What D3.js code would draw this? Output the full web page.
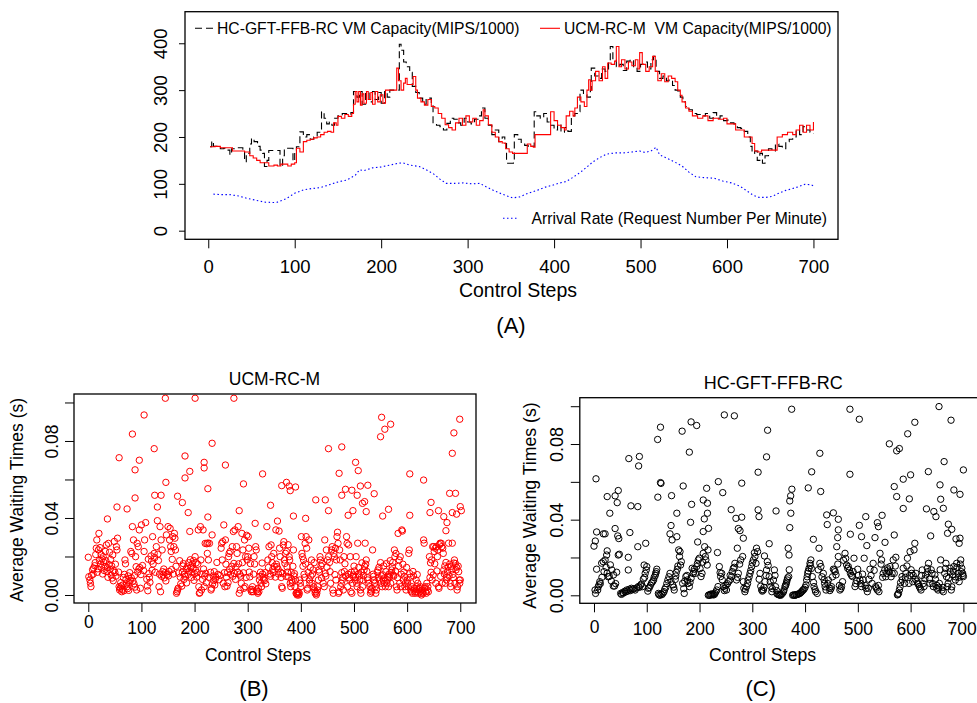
<!DOCTYPE html>
<html><head><meta charset="utf-8">
<script src="https://cdn.jsdelivr.net/npm/d3@7"></script>
<style>
body{margin:0;background:#fff}
text{font-family:"Liberation Sans",Arial,Helvetica,sans-serif;fill:#000}
</style></head>
<body><svg id="chart" width="977" height="703"></svg>
<script>
// ---------- data ----------
const stepTicks = [0,100,200,300,400,500,600,700];
const capTicks = [0,100,200,300,400];
const waitTicks = [0,0.02,0.04,0.06,0.08,0.10];
const waitLabels = [0,0.04,0.08];

const legendHC = "HC-GFT-FFB-RC VM Capacity(MIPS/1000)";
const legendUCM = "UCM-RC-M  VM Capacity(MIPS/1000)";
const legendArrival = "Arrival Rate (Request Number Per Minute)";

// HC-GFT-FFB-RC VM capacity (MIPS/1000): [control step, value]
const hcCapacity = [[2,179],[4,191],[6,180],[10,178],[14,175],[18,176],[22,172],[25,162],[27,175],[32,177],[36,177],[40,170],[42,147],[44,165],[48,185],[50,197],[53,190],[57,180],[60,172],[63,165],[65,137],[68,150],[70,171],[76,171],[80,171],[83,137],[86,160],[88,176],[95,176],[98,148],[100,170],[102,179],[106,211],[110,200],[114,205],[118,195],[122,200],[126,210],[129,215],[131,254],[134,240],[137,228],[140,232],[143,225],[146,240],[150,245],[155,250],[160,248],[165,252],[168,297],[172,285],[175,297],[178,270],[182,295],[186,275],[190,297],[193,280],[197,295],[200,272],[204,297],[207,285],[210,300],[215,300],[219,300],[221,398],[223,385],[226,360],[229,350],[233,338],[236,308],[240,295],[244,283],[248,270],[252,283],[255,283],[258,270],[260,229],[264,225],[268,222],[272,215],[276,229],[280,240],[284,238],[288,230],[292,225],[296,240],[300,232],[304,228],[308,238],[312,245],[316,262],[320,240],[324,225],[328,205],[332,215],[336,190],[340,200],[343,186],[345,144],[350,144],[353,150],[354,205],[358,195],[362,185],[366,182],[370,178],[374,180],[377,254],[380,245],[384,240],[388,250],[392,232],[396,225],[400,215],[404,228],[408,210],[412,220],[416,212],[420,245],[424,250],[428,254],[430,300],[434,290],[438,285],[442,300],[443,347],[447,330],[451,325],[455,345],[459,340],[463,362],[465,393],[468,365],[472,350],[476,355],[480,342],[484,362],[488,365],[492,350],[496,340],[500,355],[504,360],[508,345],[512,365],[515,372],[518,340],[522,325],[526,330],[530,320],[533,322],[537,310],[540,300],[543,298],[546,285],[549,275],[552,265],[556,258],[560,250],[565,248],[570,245],[575,250],[580,240],[584,252],[588,240],[592,245],[596,235],[600,236],[604,230],[608,228],[612,220],[616,218],[620,212],[624,200],[627,180],[629,165],[632,170],[635,150],[638,165],[641,144],[644,160],[648,175],[652,170],[656,185],[660,180],[664,175],[668,190],[672,195],[676,200],[680,215],[684,205],[688,222],[692,215],[696,210],[700,208]];

// UCM-RC-M VM capacity (MIPS/1000)
const ucmCapacity = [[2,179],[8,180],[14,177],[20,177],[25,177],[28,170],[35,170],[42,168],[48,160],[52,155],[56,150],[60,145],[66,145],[70,138],[76,140],[80,138],[84,142],[88,142],[92,138],[96,142],[100,145],[102,176],[106,168],[110,190],[114,193],[118,195],[122,198],[126,200],[130,205],[134,210],[138,212],[142,210],[145,230],[148,225],[150,244],[154,240],[158,248],[162,244],[166,250],[168,270],[170,297],[172,275],[174,297],[176,268],[178,292],[180,272],[183,297],[185,280],[188,295],[190,270],[193,297],[196,275],[199,290],[202,272],[205,300],[210,300],[216,300],[218,347],[220,320],[223,300],[226,315],[228,325],[230,312],[234,312],[237,329],[240,300],[242,283],[246,275],[250,268],[254,280],[258,265],[262,262],[266,250],[270,240],[274,226],[278,220],[282,215],[286,230],[290,240],[294,225],[298,245],[302,232],[306,240],[310,225],[314,235],[318,258],[320,245],[324,226],[328,210],[332,200],[336,190],[340,187],[344,175],[348,168],[352,165],[360,165],[366,165],[369,185],[373,180],[376,178],[378,205],[384,205],[390,205],[394,205],[396,254],[400,235],[404,225],[408,220],[412,215],[414,245],[418,255],[422,245],[424,262],[427,285],[431,275],[435,265],[438,300],[440,322],[442,300],[444,320],[448,340],[452,320],[456,350],[459,325],[462,358],[466,355],[470,362],[472,393],[475,350],[478,365],[482,345],[486,360],[490,352],[494,365],[497,345],[499,380],[502,355],[506,340],[510,350],[514,372],[517,340],[520,320],[524,335],[528,318],[532,330],[536,325],[540,318],[543,300],[546,289],[548,275],[552,262],[556,255],[560,245],[566,240],[572,245],[578,235],[584,240],[590,238],[596,240],[600,228],[606,228],[610,215],[616,215],[620,200],[626,200],[629,186],[632,170],[636,168],[640,172],[646,172],[652,172],[656,172],[658,200],[664,205],[670,210],[676,205],[680,215],[684,225],[688,210],[692,225],[696,215],[700,232]];

// Arrival rate (requests per minute)
const arrivalRate = [[6,78],[15,77],[25,77],[35,74],[45,69],[55,65],[65,61],[75,60],[80,61],[90,68],[100,80],[110,87],[120,90],[130,92],[140,98],[150,104],[160,108],[170,118],[175,130],[180,128],[190,134],[200,136],[210,140],[220,144],[225,145],[233,140],[244,137],[252,130],[260,122],[268,110],[275,101],[285,101],[295,102],[305,100],[314,101],[320,95],[330,86],[340,78],[352,70],[360,72],[370,80],[380,86],[390,93],[398,97],[405,101],[414,105],[422,114],[430,124],[438,136],[445,147],[452,155],[460,163],[470,166],[480,166],[490,168],[499,170],[505,167],[512,170],[518,178],[522,162],[530,155],[540,146],[548,138],[556,125],[564,115],[575,113],[585,112],[595,106],[605,102],[615,95],[623,85],[630,76],[637,71],[645,71],[652,73],[660,80],[668,86],[676,90],[683,94],[690,99],[697,98],[701,95]];

// Average waiting times (s), UCM-RC-M: [control step, seconds]
const ucmWait = [[145,0.1022],[201,0.1022],[274,0.1022],[105,0.0935],[83,0.0836],[124,0.076],[233,0.0788],[58,0.0713],[182,0.0722],[96,0.07],[218,0.0689],[218,0.066],[258,0.0675],[88,0.065],[191,0.0642],[182,0.0608],[146,0.0585],[225,0.0552],[292,0.0577],[328,0.0629],[125,0.0518],[137,0.0518],[168,0.0513],[88,0.0504],[177,0.048],[54,0.0457],[73,0.0447],[130,0.0457],[188,0.0428],[225,0.0405],[36,0.0395],[284,0.0438],[343,0.0466],[364,0.0568],[373,0.0585],[378,0.0566],[380,0.0542],[390,0.0561],[386,0.041],[428,0.0494],[409,0.0398],[452,0.076],[446,0.0494],[452,0.0438],[472,0.0632],[477,0.0769],[477,0.0518],[484,0.0549],[489,0.0414],[496,0.0544],[498,0.0438],[503,0.0689],[508,0.0646],[506,0.0518],[512,0.0566],[516,0.0476],[520,0.0485],[523,0.0433],[526,0.057],[538,0.0526],[550,0.0822],[552,0.0923],[558,0.0861],[569,0.0887],[554,0.041],[565,0.0445],[605,0.0629],[605,0.0414],[631,0.0597],[645,0.0481],[643,0.0428],[659,0.0438],[669,0.0407],[675,0.0376],[673,0.0334],[680,0.0528],[685,0.0736],[688,0.0842],[699,0.0913],[691,0.0528],[685,0.0428],[693,0.042],[700,0.0459],[702,0.0438],
[0,0.0196],[1,0.0095],[3,0.0078],[4,0.0061],[5,0.0043],[6,0.0102],[8,0.0131],[9,0.0108],[10,0.014],[12,0.0152],[13,0.0168],[14,0.021],[15,0.0243],[16,0.0286],[17,0.0118],[18,0.0136],[19,0.0234],[20,0.032],[21,0.018],[22,0.0246],[23,0.0161],[24,0.021],[25,0.0144],[26,0.0187],[27,0.0109],[28,0.0199],[29,0.0171],[30,0.0127],[31,0.0149],[32,0.0226],[33,0.0178],[34,0.026],[35,0.0121],[36,0.0142],[37,0.0092],[38,0.0268],[39,0.0158],[40,0.0222],[41,0.0133],[42,0.0185],[43,0.0104],[44,0.0151],[45,0.0088],[46,0.0208],[47,0.0074],[48,0.0126],[49,0.0278],[50,0.0117],[51,0.016],[52,0.0098],[53,0.0251],[54,0.0234],[55,0.0295],[57,0.0119],[58,0.0043],[59,0.0026],[60,0.0035],[61,0.0064],[62,0.0047],[63,0.0017],[64,0.0029],[65,0.0052],[66,0.0091],[67,0.0022],[68,0.0107],[69,0.0182],[70,0.0162],[71,0.0081],[72,0.0058],[73,0.0043],[74,0.0033],[75,0.0099],[76,0.0024],[77,0.0066],[78,0.0116],[79,0.0075],[80,0.0226],[81,0.0089],[82,0.0216],[83,0.0355],[84,0.0072],[85,0.0286],[86,0.0058],[87,0.0101],[88,0.0041],[89,0.0199],[90,0.0147],[91,0.0026],[92,0.0268],[93,0.0119],[94,0.0251],[95,0.0134],[96,0.0338],[97,0.0142],[98,0.0035],[99,0.0106],[100,0.0364],[102,0.0153],[104,0.0127],[105,0.0226],[106,0.0286],[108,0.0376],[110,0.0082],[111,0.0047],[112,0.0022],[113,0.0186],[114,0.0111],[115,0.0092],[116,0.0066],[118,0.0203],[119,0.0176],[120,0.0128],[121,0.0303],[122,0.0161],[124,0.0216],[125,0.0194],[126,0.0118],[128,0.0251],[130,0.0386],[131,0.0212],[132,0.0179],[133,0.0043],[134,0.0108],[135,0.0355],[136,0.0017],[137,0.0286],[138,0.0097],[139,0.0234],[140,0.0121],[141,0.0104],[142,0.0135],[143,0.0089],[145,0.0117],[146,0.0073],[147,0.0312],[148,0.0106],[150,0.0355],[151,0.0099],[152,0.0122],[153,0.0286],[154,0.0346],[155,0.0251],[156,0.0226],[157,0.0132],[158,0.0185],[159,0.0303],[160,0.0109],[161,0.0251],[162,0.032],[163,0.0295],[164,0.0234],[165,0.0149],[166,0.0009],[167,0.0017],[168,0.0026],[169,0.0035],[170,0.0114],[172,0.0178],[173,0.0093],[174,0.0058],[176,0.0046],[177,0.0119],[178,0.0151],[179,0.0163],[180,0.0081],[181,0.0108],[182,0.0097],[184,0.0134],[185,0.0063],[186,0.0146],[188,0.0107],[189,0.0168],[190,0.0124],[191,0.033],[192,0.0183],[193,0.0143],[194,0.0091],[195,0.0118],[196,0.0162],[197,0.0137],[198,0.0179],[199,0.0076],[200,0.0111],[201,0.0199],[202,0.0128],[203,0.0167],[204,0.0093],[205,0.0116],[206,0.016],[207,0.0338],[208,0.0043],[209,0.0009],[210,0.0012],[211,0.0355],[212,0.0182],[213,0.0026],[214,0.0109],[215,0.0081],[216,0.0338],[217,0.0135],[218,0.0043],[219,0.0098],[220,0.0268],[221,0.0112],[222,0.0064],[223,0.0266],[224,0.0216],[225,0.027],[226,0.0182],[227,0.0092],[228,0.0268],[230,0.0118],[231,0.0026],[232,0.0035],[233,0.0312],[234,0.0058],[235,0.0099],[236,0.0075],[237,0.0121],[238,0.0052],[239,0.0082],[240,0.0093],[242,0.0169],[244,0.0107],[246,0.0079],[248,0.0101],[250,0.0243],[251,0.0268],[252,0.0182],[253,0.0277],[254,0.0061],[255,0.0364],[256,0.0116],[257,0.0043],[258,0.0286],[259,0.016],[260,0.0093],[261,0.0046],[262,0.0118],[263,0.0064],[264,0.0199],[265,0.0216],[266,0.0133],[267,0.0226],[268,0.0108],[270,0.0149],[271,0.0251],[272,0.0097],[273,0.033],[274,0.0164],[275,0.0112],[276,0.0338],[277,0.0081],[278,0.0146],[279,0.0251],[280,0.0216],[281,0.0119],[282,0.0355],[283,0.0162],[284,0.0009],[285,0.0109],[286,0.0026],[287,0.0098],[288,0.0061],[289,0.032],[290,0.0168],[291,0.0234],[292,0.0115],[293,0.0035],[294,0.0286],[295,0.0043],[296,0.0199],[297,0.0091],[298,0.031],[299,0.0182],[300,0.0199],[301,0.0303],[302,0.0243],[303,0.0119],[304,0.0094],[305,0.0163],[306,0.0026],[307,0.0017],[308,0.0029],[309,0.0043],[310,0.0017],[311,0.0108],[312,0.0199],[313,0.0161],[314,0.0372],[315,0.0251],[316,0.0234],[317,0.0026],[318,0.0017],[319,0.0009],[320,0.0035],[321,0.0017],[322,0.0078],[323,0.0097],[324,0.0118],[325,0.0061],[326,0.0043],[327,0.0166],[328,0.0109],[329,0.0092],[330,0.0081],[332,0.0075],[333,0.0116],[334,0.0058],[336,0.0355],[338,0.0182],[339,0.0143],[340,0.0251],[342,0.0109],[343,0.0097],[344,0.026],[345,0.0199],[346,0.0168],[347,0.0132],[348,0.0116],[349,0.0216],[350,0.0149],[352,0.0093],[353,0.0338],[354,0.016],[355,0.0147],[356,0.0384],[357,0.0135],[358,0.0109],[359,0.0332],[360,0.0243],[361,0.0199],[362,0.0118],[363,0.0091],[364,0.0043],[365,0.0035],[366,0.0112],[367,0.026],[368,0.0277],[369,0.0182],[370,0.0164],[371,0.0216],[372,0.0097],[373,0.0226],[374,0.0146],[375,0.0119],[376,0.0261],[377,0.0093],[378,0.0199],[379,0.0182],[380,0.0061],[381,0.0043],[382,0.0116],[383,0.0078],[384,0.0064],[385,0.0149],[386,0.0234],[387,0.0099],[388,0.0111],[389,0.0043],[390,0.0078],[391,0.0009],[392,0.0009],[393,0.0],[394,0.0009],[395,0.0017],[396,0.0],[397,0.0009],[398,0.0078],[399,0.0061],[400,0.0043],[401,0.0303],[402,0.0216],[403,0.0199],[404,0.0149],[405,0.0182],[406,0.0108],[407,0.0091],[408,0.0268],[409,0.0161],[410,0.0303],[411,0.0243],[412,0.0026],[413,0.0035],[414,0.0117],[415,0.0286],[416,0.0078],[417,0.0061],[418,0.0143],[419,0.0099],[420,0.0182],[421,0.0061],[422,0.0109],[423,0.013],[424,0.0043],[425,0.0168],[426,0.0026],[427,0.0009],[428,0.0017],[429,0.0],[430,0.0009],[431,0.0026],[432,0.0043],[433,0.0078],[434,0.013],[435,0.0119],[436,0.0199],[437,0.0182],[438,0.0151],[439,0.0088],[440,0.0163],[442,0.0061],[444,0.0043],[445,0.0286],[446,0.0111],[447,0.0098],[448,0.0234],[449,0.0145],[450,0.0182],[452,0.0199],[454,0.0169],[455,0.0121],[456,0.0061],[458,0.0234],[459,0.0251],[460,0.0026],[461,0.0009],[462,0.0216],[463,0.0199],[464,0.0106],[465,0.0243],[466,0.0078],[467,0.0182],[468,0.0303],[469,0.0326],[470,0.0268],[471,0.0009],[472,0.0017],[473,0.0234],[474,0.0182],[475,0.0043],[476,0.0061],[477,0.0116],[478,0.0078],[479,0.0092],[480,0.0026],[481,0.0199],[482,0.0122],[483,0.0162],[484,0.0099],[486,0.0303],[487,0.0268],[488,0.0043],[489,0.0108],[490,0.026],[491,0.0089],[492,0.0078],[493,0.0199],[494,0.0017],[495,0.0118],[496,0.0009],[497,0.0061],[498,0.0097],[499,0.0104],[500,0.015],[501,0.0125],[502,0.0078],[503,0.0093],[504,0.0199],[505,0.0061],[506,0.0043],[507,0.0269],[508,0.0109],[509,0.0143],[510,0.0099],[511,0.0078],[512,0.0026],[513,0.0009],[514,0.0119],[515,0.0167],[516,0.0043],[517,0.0078],[518,0.0102],[519,0.013],[520,0.0148],[521,0.0269],[522,0.016],[523,0.0182],[524,0.0123],[525,0.009],[526,0.0078],[528,0.0061],[530,0.0043],[531,0.0009],[532,0.0026],[533,0.0017],[534,0.0035],[535,0.0234],[536,0.0108],[537,0.0097],[538,0.0078],[539,0.0061],[540,0.0043],[541,0.0009],[542,0.0026],[544,0.0118],[545,0.013],[546,0.0092],[547,0.0144],[548,0.0078],[550,0.0168],[551,0.0061],[552,0.0099],[553,0.0043],[554,0.0105],[555,0.0078],[556,0.0151],[557,0.0061],[558,0.0089],[559,0.0043],[560,0.0121],[561,0.0163],[562,0.0061],[563,0.0078],[564,0.0097],[565,0.0043],[566,0.0109],[567,0.0093],[568,0.0178],[569,0.0061],[570,0.0117],[571,0.013],[572,0.0146],[573,0.0169],[574,0.0104],[575,0.0098],[576,0.0234],[577,0.0199],[578,0.0124],[579,0.0216],[580,0.0043],[581,0.0026],[582,0.009],[583,0.032],[584,0.0149],[585,0.0182],[586,0.0061],[587,0.0199],[588,0.0043],[589,0.0108],[590,0.0338],[591,0.0332],[592,0.016],[593,0.0078],[594,0.0119],[595,0.0097],[596,0.0043],[597,0.0061],[598,0.0026],[599,0.0143],[600,0.0078],[601,0.0061],[602,0.0043],[603,0.0216],[604,0.0234],[605,0.0111],[606,0.0092],[607,0.0026],[608,0.0017],[609,0.0043],[610,0.0009],[611,0.0122],[612,0.0099],[613,0.0026],[614,0.0035],[615,0.0009],[616,0.0017],[617,0.0078],[618,0.0043],[619,0.0106],[620,0.0061],[621,0.0009],[622,0.0026],[623,0.0035],[624,0.0017],[625,0.0043],[626,0.0009],[627,0.0],[628,0.0026],[629,0.0017],[630,0.0009],[631,0.0286],[632,0.0269],[633,0.0035],[634,0.0043],[635,0.0017],[636,0.0009],[637,0.0061],[638,0.0026],[639,0.0043],[640,0.0017],[642,0.0199],[643,0.0091],[644,0.0167],[645,0.0118],[646,0.0182],[647,0.0078],[648,0.0251],[649,0.0104],[650,0.0251],[651,0.0226],[652,0.0162],[653,0.0243],[654,0.0061],[655,0.0251],[656,0.0125],[657,0.0199],[658,0.0234],[659,0.0043],[660,0.0035],[661,0.0261],[662,0.0269],[663,0.0097],[664,0.0269],[665,0.0251],[666,0.0061],[667,0.0243],[668,0.0216],[669,0.013],[670,0.0109],[671,0.0151],[672,0.0061],[673,0.0169],[674,0.0078],[675,0.0093],[676,0.0119],[677,0.0145],[678,0.0269],[679,0.0099],[680,0.016],[681,0.0061],[682,0.0043],[683,0.0149],[684,0.013],[685,0.0269],[686,0.0107],[687,0.009],[688,0.0166],[689,0.0182],[690,0.0061],[691,0.0163],[692,0.013],[693,0.0144],[694,0.0026],[695,0.0043],[696,0.015],[697,0.0121],[698,0.0078],[699,0.0061],[700,0.0078]];

// Average waiting times (s), HC-GFT-FFB-RC
const hcWait = [[0,0.026],[2.5,0.0287],[3.8,0.0616],[5,0.0335],[5,0.0138],[7,0.0028],[25,0.0522],[30,0.0434],[40,0.0526],[44,0.049],[46,0.0554],[40,0.0353],[45,0.0314],[47,0.03],[17.7,0.0325],[21,0.0325],[25,0.0235],[48,0.0217],[66,0.0723],[68,0.0332],[70,0.0473],[65,0.0201],[65,0.0134],[84.6,0.0684],[86,0.0734],[83,0.0469],[83,0.0257],[98,0.0275],[95,0.016],[120.6,0.0824],[126,0.0889],[121,0.0519],[126,0.0596],[127,0.0592],[147,0.0527],[146,0.0369],[144,0.0325],[148,0.0293],[157,0.0434],[157,0.031],[167,0.0868],[169,0.0578],[180.7,0.0757],[184,0.0917],[183,0.0386],[185,0.0481],[194.6,0.0898],[196.5,0.0282],[207,0.0504],[209,0.0404],[213.5,0.0566],[215,0.0487],[215,0.0434],[217,0.0354],[207,0.0337],[235.6,0.0601],[244,0.0543],[247,0.0954],[234,0.0226],[260,0.0453],[266,0.0949],[269,0.0407],[273.5,0.0353],[276.7,0.0342],[280,0.0413],[280,0.0593],[283,0.0302],[271.6,0.0249],[311,0.0651],[311,0.0452],[312.7,0.0416],[329,0.0873],[327,0.0732],[332,0.0273],[345,0.0446],[323,0.0208],[374.6,0.0984],[375,0.0561],[372.7,0.0526],[371,0.0499],[373,0.0434],[371,0.0358],[368,0.0249],[369.6,0.0213],[406,0.0568],[412.5,0.0653],[428,0.0751],[429.6,0.0549],[415.7,0.0296],[426.4,0.0249],[441,0.0425],[442,0.0374],[453.6,0.0436],[463,0.0402],[463,0.0346],[461.8,0.0305],[485,0.0984],[485,0.064],[485.8,0.0323],[502.8,0.0931],[502.8,0.037],[507,0.031],[515,0.0416],[517,0.0263],[532.5,0.0305],[537,0.0384],[539,0.0363],[546,0.0423],[551.5,0.028],[559.7,0.0801],[573.6,0.0764],[578.7,0.0776],[569,0.0575],[573.6,0.0522],[569,0.0319],[586,0.0614],[586,0.0459],[594.5,0.0854],[597.6,0.051],[600,0.0637],[608,0.0915],[608,0.0275],[630,0.0457],[633.6,0.0654],[638,0.0314],[644,0.0443],[648,0.0416],[653.8,0.0998],[655.7,0.0584],[657,0.0508],[662,0.046],[663.5,0.0707],[671.5,0.0376],[670,0.0328],[676.6,0.0926],[678,0.0349],[682,0.0557],[686,0.0298],[693.6,0.0534],[700,0.0663],[693.6,0.0302],[692,0.0275],
[2,0.0028],[3,0.001],[9.5,0.0055],[11,0.0072],[14.5,0.017],[17.5,0.0178],[21,0.0187],[24,0.0213],[25,0.0117],[29,0.01],[31,0.0161],[34,0.0134],[36.6,0.0049],[39,0.0049],[43,0.0122],[46,0.0213],[50.5,0.001],[54,0.0014],[58,0.0021],[62,0.0028],[67,0.0032],[71,0.0037],[76,0.0035],[81,0.0039],[84,0.0046],[88,0.0053],[92,0.0046],[93.5,0.0086],[97,0.0116],[100,0.0152],[96,0.0095],[99,0.0134],[103,0.0037],[107,0.0053],[111,0.0072],[114,0.0095],[117,0.0116],[119,0.0138],[122,0.001],[125,0],[129,0.0004],[132.7,0.0019],[136,0.0042],[140,0.0081],[144,0.0116],[149,0.0055],[152,0.0028],[155,0.0102],[158,0.0138],[160.5,0.024],[163,0.0231],[165.5,0.0178],[168,0.0063],[171,0.001],[174,0.0099],[177,0.0081],[180.7,0.0046],[184,0.0090],[186,0.0143],[189,0.0125],[192,0.0116],[194.6,0.0152],[197.7,0.0187],[199.6,0.0196],[202.8,0.0099],[204.7,0.0116],[207,0.0222],[209.7,0.0257],[212,0.0187],[214.5,0.016],[216,0.024],[216.7,0],[220,0],[223,0.0004],[226,0.0002],[229,0.001],[232.5,0.0028],[235,0.0046],[237.5,0.0152],[240,0.0099],[242,0.0116],[245,0.0046],[248,0.0037],[251,0.0028],[255,0.0072],[257.7,0.0081],[260.9,0.0099],[264,0.0143],[267,0.0169],[270,0.0081],[273.5,0.0116],[278,0.0187],[281.7,0.0205],[284,0.0037],[286,0.0019],[289,0.0046],[292,0.0081],[295.6,0.0116],[298.8,0.0152],[302,0.0187],[305,0.0205],[307,0.0169],[308,0.0249],[310,0.0231],[314.6,0.0116],[317.8,0.0028],[321,0.0028],[324,0.0072],[327,0.0134],[328.5,0.0178],[332,0.0099],[335,0.0046],[337,0.0019],[340,0.0081],[341.8,0.0134],[344,0.0046],[347,0.0007],[350.6,0.0002],[353.7,0],[357,0.001],[360,0.0028],[362,0.0046],[364,0.006],[366,0.0081],[369,0.0099],[376.5,0],[381,0],[384,0.0004],[388,0.0007],[391.7,0.0014],[394.8,0.0023],[398,0.0032],[401.8,0.0055],[403,0.0081],[405,0.0116],[407.5,0.0143],[409.3,0.0169],[411,0.0187],[413.8,0.0099],[417,0.0046],[420,0.0019],[423,0.001],[428,0.0169],[430,0.0152],[434.6,0.0116],[437,0.0063],[439.7,0.0028],[444,0.0081],[447,0.0025],[450,0.0046],[453.6,0.0138],[455.5,0.0134],[458.6,0.0108],[460,0.0257],[463,0.0205],[466,0.0028],[469,0.0046],[471,0.0072],[475.7,0.0222],[478.8,0.016],[480.7,0.0143],[484,0.0134],[486,0.0116],[490,0.0099],[492.7,0.0196],[494.6,0.0046],[497.8,0.0078],[499.7,0.0138],[504,0.0081],[507,0.0046],[510,0.0081],[512,0.0196],[515.5,0.0037],[518,0.0019],[520,0.0037],[523,0.0138],[527,0.0063],[529,0.0169],[533.8,0.0046],[537,0.0028],[540,0.0019],[542,0.0222],[545,0.0187],[548,0.0116],[551,0.0134],[554.6,0.0116],[557.8,0.0134],[561,0.0152],[565,0.0116],[567,0.0187],[569,0.0116],[572,0.0201],[575,0.0002],[577,0.001],[578.7,0.0028],[581,0.0067],[583.7,0.0099],[586,0.0143],[588.8,0.0063],[591,0.0116],[594,0.0196],[596.8,0.0063],[599,0.0231],[602,0.0116],[604,0.0072],[606.5,0.024],[610,0.0116],[613.4,0.0063],[616.5,0.0046],[619.7,0.0028],[622,0.0134],[625.4,0.0046],[628.6,0.0108],[631.7,0.0143],[634,0.0169],[636.8,0.0063],[640.6,0.0116],[643,0.0046],[647,0.0085],[649.4,0.0037],[652,0.0028],[654.5,0.0063],[657,0.0187],[659.5,0.0028],[662,0.0019],[664.6,0.0116],[667,0.0169],[669.6,0.0046],[672,0.009],[674.7,0.0143],[677,0.0028],[679.7,0.0108],[682,0.0152],[684.8,0.0081],[687.3,0.0169],[690,0.0116],[692,0.0072],[695,0.0187],[697,0.0143],[698.7,0.0116],[700,0.0099],
[8,0.0045],[12,0.0062],[15,0.0095],[19,0.0125],[23,0.0148],[27,0.0098],[33,0.0075],[37,0.0108],[41,0.0062],[52,0.0005],[56,0.0012],[60,0.0018],[64,0.0022],[69,0.0025],[73,0.0031],[78,0.0028],[86,0.0042],[90,0.006],[102,0.0022],[105,0.0041],[109,0.0065],[113,0.0081],[116,0.0105],[118,0.0125],[123,0.0003],[127,0.0008],[131,0.0012],[134,0.0031],[138,0.0062],[142,0.0098],[146,0.0072],[151,0.0043],[154,0.0084],[156,0.0121],[159,0.0155],[162,0.0205],[164,0.016],[170,0.0035],[172,0.0075],[176,0.0105],[178,0.0062],[182,0.0068],[188,0.0115],[190,0.0138],[196,0.0168],[201,0.0141],[206,0.0175],[211,0.0205],[218,0.0002],[221,0.0006],[225,0.0008],[228,0.0004],[231,0.0018],[239,0.012],[243,0.0082],[247,0.0025],[250,0.0052],[253,0.0061],[258,0.0105],[262,0.0125],[266,0.0148],[272,0.0095],[276,0.0165],[283,0.0072],[287,0.0031],[291,0.0062],[294,0.0098],[297,0.0131],[300,0.0171],[304,0.0225],[313,0.0085],[316,0.0048],[319,0.0022],[322,0.0042],[326,0.0105],[330,0.0158],[334,0.0072],[338,0.0035],[343,0.0105],[346,0.0025],[349,0.0005],[352,0.0002],[355,0.0005],[359,0.0018],[363,0.0052],[365,0.007],[367,0.0092],[370,0.0135],[378,0.0002],[380,0.0001],[383,0.0003],[386,0.0005],[390,0.001],[393,0.0018],[396,0.0028],[400,0.0042],[404,0.0098],[406,0.0128],[410,0.0158],[412,0.0142],[416,0.0068],[419,0.003],[425,0.0135],[432,0.0098],[436,0.0082],[438,0.0045],[443,0.0062],[446,0.0038],[449,0.0035],[452,0.0098],[457,0.0125],[462,0.0165],[465,0.0052],[468,0.0035],[473,0.0185],[477,0.0195],[482,0.0152],[488,0.0105],[491,0.0125],[496,0.0062],[501,0.0105],[506,0.0062],[509,0.0112],[514,0.0052],[521,0.0085],[525,0.0105],[531,0.0132],[535,0.0038],[539,0.0052],[544,0.0165],[547,0.0095],[553,0.0098],[556,0.0145],[560,0.0125],[563,0.0098],[571,0.0155],[576,0.0005],[580,0.0045],[584,0.0082],[590,0.0095],[593,0.0155],[598,0.0105],[601,0.0135],[605,0.0105],[609,0.0085],[612,0.0075],[615,0.0058],[618,0.0038],[621,0.0105],[624,0.0062],[627,0.0088],[633,0.0125],[636,0.0085],[639,0.0135],[642,0.0062],[646,0.0108],[650,0.0052],[653,0.0042],[656,0.0135],[661,0.0042],[666,0.0142],[668,0.0098],[671,0.0062],[675,0.0125],[678,0.0045],[681,0.0128],[685,0.0098],[688,0.0148],[691,0.0095],[694,0.0165],[696,0.0125],[699,0.0105]];

// ---------- drawing ----------
const svg = d3.select("#chart");

function xAxis(scale, yPos, tickLen, fs, labelBase, zeroShift, lastShift) {
  const g = svg.append("g").attr("transform", `translate(0,${yPos})`)
    .call(d3.axisBottom(scale).tickValues(stepTicks).tickSize(tickLen).tickFormat(d3.format("d")));
  g.attr("font-family", null).attr("font-size", null);
  g.select(".domain").remove();
  g.selectAll("line").attr("stroke", "#000");
  g.selectAll("text").attr("dy", null).style("font-size", fs + "px")
    .attr("y", d => labelBase - (d === 0 ? zeroShift : 0))
    .attr("x", d => (d === 700 ? -lastShift : 0));
}
function yAxis(scale, xPos, vals, fmt, tickLen, fs, off) {
  const g = svg.append("g").attr("transform", `translate(${xPos},0)`)
    .call(d3.axisLeft(scale).tickValues(vals).tickSize(tickLen).tickFormat(fmt));
  g.attr("font-family", null).attr("font-size", null);
  g.select(".domain").remove();
  g.selectAll("line").attr("stroke", "#000");
  g.selectAll("text").attr("x", null).attr("dy", "0.35em").attr("text-anchor", "middle")
    .attr("transform", `translate(${-off},0) rotate(-90)`).style("font-size", fs + "px");
}
function box(x0, y0, x1, y1) {
  svg.append("rect").attr("x", x0).attr("y", y0).attr("width", x1 - x0).attr("height", y1 - y0)
    .attr("fill", "none").attr("stroke", "#000").attr("stroke-width", 1.3);
}
function label(txt, x, y, fs, rot) {
  const t = svg.append("text").attr("text-anchor", "middle").style("font-size", fs + "px").text(txt);
  if (rot) t.attr("transform", `translate(${x},${y}) rotate(-90)`);
  else t.attr("x", x).attr("y", y);
  return t;
}

// ===== Panel A =====
const xA = d3.scaleLinear().domain([-26.9, 728.4]).range([185, 838]);
const yA = d3.scaleLinear().domain([-18.4, 467.4]).range([239.3, 11.7]);

const lineStep = d3.line().x(d => xA(d[0])).y(d => yA(d[1])).curve(d3.curveStepAfter);
const lineLin = d3.line().x(d => xA(d[0])).y(d => yA(d[1]));

svg.append("path").datum(arrivalRate).attr("d", lineLin).attr("fill", "none")
  .attr("stroke", "#0000ff").attr("stroke-width", 1.1).attr("stroke-dasharray", "1.5,2.5");
svg.append("path").datum(hcCapacity).attr("d", lineStep).attr("fill", "none")
  .attr("stroke", "#000").attr("stroke-width", 1.1).attr("stroke-dasharray", "7,4");
svg.append("path").datum(ucmCapacity).attr("d", lineStep).attr("fill", "none")
  .attr("stroke", "#ff0000").attr("stroke-width", 1.1);

box(185, 11.7, 838, 239.3);
xAxis(xA, 239.3, 9, 18.5, 34, 0, 0);
yAxis(yA, 185, capTicks, d3.format("d"), 6, 18.5, 24);
label("Control Steps", 518, 297, 19.5);
label("(A)", 511, 333, 22);

// legend
svg.append("line").attr("x1", 195).attr("x2", 213).attr("y1", 28.3).attr("y2", 28.3)
  .attr("stroke", "#000").attr("stroke-width", 1.1).attr("stroke-dasharray", "7,4");
svg.append("text").attr("x", 217).attr("y", 34).style("font-size", "15.7px").text(legendHC);
svg.append("line").attr("x1", 540).attr("x2", 560).attr("y1", 28.3).attr("y2", 28.3)
  .attr("stroke", "#ff0000").attr("stroke-width", 1.1);
svg.append("text").attr("x", 564).attr("y", 34).style("font-size", "15.7px")
  .style("white-space", "pre").text(legendUCM);
svg.append("line").attr("x1", 503).attr("x2", 518).attr("y1", 218.3).attr("y2", 218.3)
  .attr("stroke", "#0000ff").attr("stroke-width", 1.1).attr("stroke-dasharray", "1.5,2.5");
svg.append("text").attr("x", 531.5).attr("y", 224).style("font-size", "15.7px").text(legendArrival);

// ===== Panel B =====
const xB = d3.scaleLinear().domain([-26.9, 729.6]).range([74, 476]);
const yB = d3.scaleLinear().domain([-0.00416, 0.1044]).range([603, 394]);
svg.append("g").selectAll("circle").data(ucmWait).join("circle")
  .attr("cx", d => xB(d[0])).attr("cy", d => yB(d[1])).attr("r", 3.2)
  .attr("fill", "none").attr("stroke", "#ff0000").attr("stroke-width", 1);
box(74, 394, 476, 603);
xAxis(xB, 603, 9, 17.5, 30.6, 6, 0);
yAxis(yB, 74, waitTicks, d => waitLabels.includes(d) ? d3.format(".2f")(d) : "", 9, 17.5, 22.3);
label("UCM-RC-M", 274.5, 385, 17.5);
label("Control Steps", 258, 661, 17.5);
label("Average Waiting Times (s)", 22.7, 500, 17.5, true);
label("(B)", 254, 696, 22);

// ===== Panel C =====
const xC = d3.scaleLinear().domain([-26.9, 729.6]).range([579.8, 979]);
const yC = d3.scaleLinear().domain([-0.00423, 0.1045]).range([603.3, 397.7]);
svg.append("g").selectAll("circle").data(hcWait).join("circle")
  .attr("cx", d => xC(d[0])).attr("cy", d => yC(d[1])).attr("r", 3.2)
  .attr("fill", "none").attr("stroke", "#000").attr("stroke-width", 1);
box(579.8, 397.7, 979, 603.3);
xAxis(xC, 603.3, 9, 17.5, 31.4, 2, 1.8);
yAxis(yC, 579.8, waitTicks, d => waitLabels.includes(d) ? d3.format(".2f")(d) : "", 9, 18, 23);
label("HC-GFT-FFB-RC", 773.3, 389.3, 18);
label("Control Steps", 762.5, 661, 17.7);
label("Average Waiting Times (s)", 536, 505.5, 17.7, true);
label("(C)", 760.7, 696, 22);
</script>
</body></html>
